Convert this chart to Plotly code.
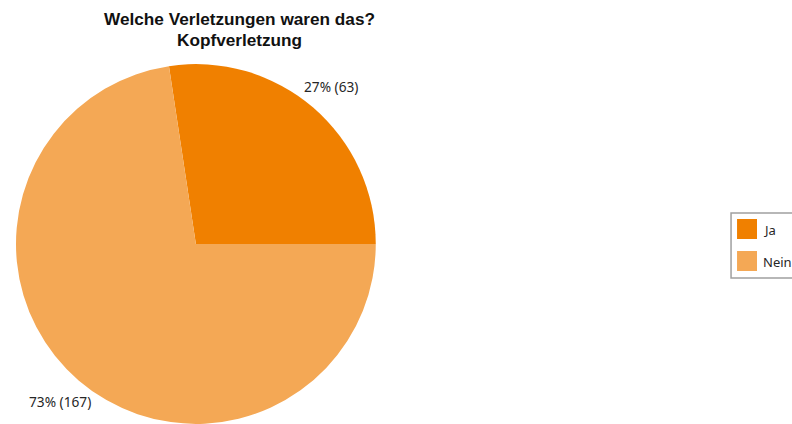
import plotly.graph_objects as go
import math

# Survey answers: head injury (Kopfverletzung)
categories = ["Ja", "Nein"]
counts = [63, 167]
colors = ["#F08000", "#F4A855"]

title_lines = ["Welche Verletzungen waren das?", "Kopfverletzung"]

W, H = 792, 424
L, R, T, B = 15.5, 0, 64, 0
PW, PH = W - L - R, H - T - B
CX, CY, RAD = L + PH / 2, T + PH / 2, PH / 2


def px_x(x):
    return (x - L) / PW


def px_y(y):
    return (H - B - y) / PH


total = sum(counts)
# first slice ends exactly at 3 o'clock
rotation = 90 - 360 * counts[0] / total

fig = go.Figure(
    go.Pie(
        labels=categories,
        values=counts,
        sort=False,
        direction="clockwise",
        rotation=rotation,
        marker=dict(colors=colors, line=dict(width=0)),
        textinfo="none",
        domain=dict(x=[0, PH / PW], y=[0, 1]),
        showlegend=False,
        hoverinfo="label+value+percent",
    )
)

annotations = []

# value labels outside each slice, on the slice's middle angle
start = rotation
for v in counts:
    span = 360 * v / total
    mid = math.radians(start + span / 2)
    lx = CX + 1.155 * RAD * math.sin(mid)
    ly = CY - 1.155 * RAD * math.cos(mid)
    annotations.append(dict(xref="paper", yref="paper", x=px_x(lx), y=px_y(ly),
                            xanchor="center", yanchor="middle", showarrow=False,
                            text=f"{round(100 * v / total)}% ({v})",
                            font=dict(family="Noto Sans", size=13.7, color="#262626")))
    start += span

# legend drawn as a framed box with colour swatches
shapes = [
    dict(type="rect", xref="paper", yref="paper",
         x0=px_x(731), x1=px_x(820), y0=px_y(278), y1=px_y(213),
         line=dict(color="#A0A0A0", width=1.5), fillcolor="white", layer="below"),
]
for i, (cat, col) in enumerate(zip(categories, colors)):
    top = 219 + i * 32
    shapes.append(dict(type="rect", xref="paper", yref="paper",
                       x0=px_x(737), x1=px_x(757), y0=px_y(top + 20), y1=px_y(top),
                       line=dict(width=0), fillcolor=col))
    annotations.append(dict(xref="paper", yref="paper", x=px_x(761), y=px_y(top + 11),
                            xanchor="left", yanchor="middle", text=cat, showarrow=False,
                            font=dict(family="Noto Sans", size=13, color="#262626")))

# two-line bold title
for i, line in enumerate(title_lines):
    annotations.append(dict(xref="paper", yref="paper", x=px_x(239), y=px_y(19 + 21 * i),
                            xanchor="center", yanchor="middle", showarrow=False,
                            text=f"<b>{line}</b>",
                            font=dict(family="Liberation Sans, Arial", size=17.2, color="#111111")))

fig.update_layout(
    width=W,
    height=H,
    margin=dict(l=L, r=R, t=T, b=B, autoexpand=False),
    paper_bgcolor="white",
    plot_bgcolor="white",
    shapes=shapes,
    annotations=annotations,
)

fig.write_html("out.html")
